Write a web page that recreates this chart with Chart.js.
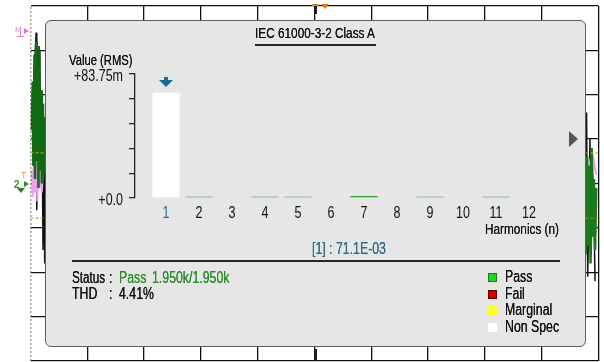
<!DOCTYPE html>
<html>
<head>
<meta charset="utf-8">
<title>IEC 61000-3-2 Class A</title>
<script src="https://cdn.jsdelivr.net/npm/chart.js@4.4.1/dist/chart.umd.min.js"></script>
<style>
  html, body { margin: 0; padding: 0; background: #fff; }
  body {
    width: 604px; height: 362px; position: relative; overflow: hidden;
    font-family: 'Liberation Sans', Arial, sans-serif;
    color: #111;
  }
  canvas { position: absolute; left: 0; top: 0; }
  #scope { z-index: 0; }
  #harmonics { z-index: 2; }
  .panel {
    position: absolute; left: 45px; top: 20px; width: 539px; height: 325px;
    background: #e6e6e6; border: 1px solid #5c5c5c; border-radius: 6px; z-index: 1;
  }
  /* narrow lettering like the instrument font */
  .txt {
    position: absolute; z-index: 3; white-space: nowrap; font-size: 16px; line-height: 16px;
    transform: scaleX(0.77); transform-origin: 0 50%;
    text-shadow: 0 0 0.5px currentColor;
  }
  .rule { position: absolute; z-index: 3; background: #262626; }
  .sq { position: absolute; z-index: 3; width: 9px; height: 9px; box-sizing: border-box; }
  .green { color: #2f8a2f; }
  .blue { color: #2f6b85; }
  .next {
    position: absolute; z-index: 3; left: 569px; top: 131px; width: 0; height: 0;
    border-top: 8px solid transparent; border-bottom: 8px solid transparent; border-left: 9px solid #555;
  }
  .mark { position: absolute; z-index: 3; white-space: nowrap; line-height: 10px; }
  .tri-r { position: absolute; z-index: 3; width: 0; height: 0; border-top: 3px solid transparent; border-bottom: 3px solid transparent; }
  .tri-d { position: absolute; z-index: 3; width: 0; height: 0; border-left: 4px solid transparent; border-right: 4px solid transparent; }
  .bar { position: absolute; z-index: 3; }
</style>
</head>
<body>
<canvas id="scope" width="604" height="362"></canvas>
<div class="panel"></div>
<canvas id="harmonics" width="604" height="362"></canvas>

<!-- channel and trigger markers around the graticule -->
<div class="mark" style="left:15px;top:25px;font-size:8px;color:#d67ad6;">M</div>
<div class="tri-r" style="left:24px;top:28px;border-left:5px solid #d67ad6;"></div>
<div class="bar" style="left:20px;top:31px;width:1px;height:6px;background:#d67ad6;"></div>
<div class="bar" style="left:17px;top:36px;width:7px;height:1px;background:#d67ad6;"></div>
<div class="mark" style="left:21px;top:170px;font-size:9px;color:#e09a3a;">T</div>
<div class="mark" style="left:14px;top:180px;font-size:10px;font-weight:bold;color:#3a8a2a;">2</div>
<div class="tri-r" style="left:24px;top:181px;border-left:5px solid #2e8a2e;"></div>
<div class="tri-d" style="left:17px;top:188px;border-top:5px solid #2e7a2e;"></div>
<div class="bar" style="left:315px;top:4px;width:1.5px;height:10px;background:#222;"></div>
<div class="bar" style="left:312px;top:4px;width:7px;height:1.5px;background:#c08a3a;"></div>
<div class="tri-d" style="left:321px;top:4px;border-top:5px solid #e07a10;"></div>
<div class="bar" style="left:315px;top:349px;width:1.5px;height:12px;background:#222;"></div>

<div class="txt" style="left:193px;top:25px;width:244px;text-align:center;transform-origin:50% 50%;font-size:15.5px;transform:scaleX(0.76);">IEC 61000-3-2 Class A</div>
<div class="rule" style="left:255px;top:44px;width:121px;height:1.5px;"></div>
<div class="txt" style="left:69px;top:52px;font-size:15px;transform:scaleX(0.75);">Value (RMS)</div>
<div class="txt" style="left:485px;top:221px;font-size:15.5px;transform:scaleX(0.76);">Harmonics (n)</div>
<div class="txt blue" id="cursor" style="left:312px;top:241px;"></div>
<div class="rule" style="left:72px;top:260px;width:488px;height:1.5px;"></div>

<div class="txt" style="left:72px;top:270px;transform:scaleX(0.73);">Status</div>
<div class="txt" style="left:109px;top:270px;">:</div>
<div class="txt green" id="status" style="left:119px;top:270px;"></div>
<div class="txt green" id="count" style="left:152px;top:270px;"></div>
<div class="txt" style="left:72px;top:286px;">THD</div>
<div class="txt" style="left:109px;top:286px;">:</div>
<div class="txt" id="thd" style="left:119px;top:286px;"></div>

<div id="legend"></div>
<div class="next"></div>

<script>
// harmonic table
const harmonics = [1, 2, 3, 4, 5, 6, 7, 8, 9, 10, 11, 12];
const rmsValues = [71.1e-3, 0.8e-3, 0, 0.8e-3, 0.8e-3, 0, 1.4e-3, 0, 0.8e-3, 0, 0.8e-3, 0];
const harmonicStatus = ['Non Spec', 'Pass', 'Pass', 'Pass', 'Pass', 'Pass', 'Pass', 'Pass', 'Pass', 'Pass', 'Pass', 'Pass'];
const selectedHarmonic = 1;
const yMax = 83.75e-3;
const yDivisions = 5;

const overallStatus = 'Pass';
const passCount = '1.950k/1.950k';
const thdText = '4.41%';

const legendItems = ['Pass', 'Fail', 'Marginal', 'Non Spec'];
const statusColors = { 'Pass': '#2f9e2f', 'Fail': '#cc0000', 'Marginal': '#ffff00', 'Non Spec': '#ffffff' };
const legendFill = { 'Pass': '#22d322', 'Fail': '#d40000', 'Marginal': '#ffff20', 'Non Spec': '#ffffff' };
const legendEdge = { 'Pass': '#1a7a1a', 'Fail': '#5a0000', 'Marginal': '#ffff20', 'Non Spec': '#ffffff' };

// scope traces visible at both sides of the panel (divisions)
const leftGreenX  = [0.02, 0.04, 0.05, 0.07, 0.08, 0.10, 0.11, 0.13, 0.14, 0.16, 0.17, 0.19, 0.20, 0.22, 0.23, 0.25, 0.26];
const leftGreenY  = [5.2, 6.3, 4.4, 6.9, 4.1, 7.2, 4.5, 6.6, 3.9, 7.0, 4.3, 6.1, 4.0, 5.8, 4.2, 5.5, 4.6];
const leftPinkX   = [0.02, 0.04, 0.06, 0.08, 0.10, 0.12, 0.14, 0.16, 0.18, 0.20, 0.22];
const leftPinkY   = [4.3, 3.7, 4.7, 3.8, 4.6, 3.6, 4.5, 3.9, 4.8, 3.8, 4.4];
const leftBlackX  = [0.03, 0.10, 0.11, 0.15, 0.17, 0.20, 0.22, 0.24, 0.25, 0.27];
const leftBlackY  = [5.6, 7.4, 3.4, 7.1, 4.0, 6.0, 2.5, 5.2, 2.2, 4.0];
const rightGreenX = [9.76, 9.78, 9.80, 9.82, 9.84, 9.86, 9.88, 9.90, 9.92, 9.94, 9.96];
const rightGreenY = [4.2, 2.4, 4.6, 2.6, 4.4, 2.2, 4.8, 2.8, 4.1, 2.5, 3.9];
const rightPinkX  = [9.80, 9.84, 9.88, 9.92, 9.96];
const rightPinkY  = [4.0, 4.4, 3.9, 4.5, 4.2];
const rightBlackX = [9.75, 9.76, 9.79, 9.81, 9.85, 9.87, 9.90, 9.94];
const rightBlackY = [6.4, 2.6, 5.6, 1.9, 5.0, 2.4, 4.6, 1.8];
const levelLines  = [4.69, 3.22];

const textScaleX = 0.78;

Chart.defaults.font.family = "'Liberation Sans', Arial, sans-serif";
Chart.defaults.color = '#111';

const pts = (xs, ys) => xs.map((x, i) => ({ x, y: ys[i] }));
const trace = (xs, ys, color, width) => ({
  data: pts(xs, ys), showLine: true, pointRadius: 0, borderColor: color, borderWidth: width
});

// scope graticule behind the panel
new Chart(document.getElementById('scope'), {
  type: 'scatter',
  data: {
    datasets: [
      { data: [{ x: 0, y: 0 }, { x: 0, y: 8 }], showLine: true, pointRadius: 0, borderColor: '#5a3510', borderWidth: 1.5, borderDash: [2, 2] },
      ...levelLines.map((v, i) => ({
        data: [{ x: 0, y: v }, { x: 10, y: v }], showLine: true, pointRadius: 0,
        borderColor: i === 0 ? '#e08a2a' : '#b88a3a', borderWidth: 1, borderDash: [3, 2]
      })),
      trace(leftGreenX, leftGreenY, '#106a14', 2.5),
      trace(leftPinkX, leftPinkY, '#f09cf0', 2),
      trace(leftBlackX, leftBlackY, '#111', 1.5),
      trace(rightGreenX, rightGreenY, '#1c7a1c', 2.5),
      trace(rightPinkX, rightPinkY, '#f0a0f0', 2),
      trace(rightBlackX, rightBlackY, '#111', 1.5)
    ]
  },
  options: {
    responsive: false,
    animation: false,
    layout: { padding: { left: 30.5, right: 5.5, top: 6, bottom: 1 } },
    plugins: { legend: { display: false }, tooltip: { enabled: false } },
    scales: {
      x: {
        min: 0, max: 10,
        ticks: { display: false, stepSize: 1 },
        grid: { drawTicks: false, lineWidth: 1.3, color: (ctx) => ctx.tick && ctx.tick.value === 0 ? 'rgba(0,0,0,0)' : '#111' },
        border: { display: false },
        afterFit: (s) => { s.height = 0; }
      },
      y: {
        min: 0, max: 8,
        ticks: { display: false, stepSize: 1 },
        grid: { drawTicks: false, lineWidth: 1.3, color: '#111' },
        border: { display: false },
        afterFit: (s) => { s.width = 0; }
      }
    }
  }
});

// squeeze axis text horizontally around its anchor point
const condensedText = {
  id: 'condensedText',
  beforeDraw(chart) {
    const ctx = chart.ctx;
    const fill = CanvasRenderingContext2D.prototype.fillText;
    ctx.fillText = function (text, x, y) {
      this.save();
      this.translate(x, y);
      this.scale(textScaleX, 1);
      fill.call(this, text, 0, 0);
      this.restore();
    };
  },
  afterDraw(chart) {
    delete chart.ctx.fillText;
  }
};

// cursor arrow over the selected harmonic
const cursorArrow = {
  id: 'cursorArrow',
  afterDatasetsDraw(chart) {
    const { ctx, chartArea, scales } = chart;
    const x = scales.x.getPixelForValue(selectedHarmonic);
    const y = chartArea.top + 3;
    ctx.save();
    ctx.fillStyle = '#1b6b93';
    ctx.fillRect(x - 2, y, 4, 4);
    ctx.beginPath();
    ctx.moveTo(x - 7, y + 3);
    ctx.lineTo(x + 7, y + 3);
    ctx.lineTo(x, y + 10);
    ctx.closePath();
    ctx.fill();
    ctx.restore();
  }
};

new Chart(document.getElementById('harmonics'), {
  type: 'bar',
  data: {
    datasets: [{
      data: pts(harmonics, rmsValues),
      backgroundColor: harmonicStatus.map((s) => statusColors[s]),
      borderWidth: 0,
      barPercentage: 0.82,
      categoryPercentage: 1
    }]
  },
  options: {
    responsive: false,
    animation: false,
    layout: { padding: { left: 45, right: 58.5, top: 74, bottom: 129 } },
    plugins: { legend: { display: false }, tooltip: { enabled: false } },
    scales: {
      x: {
        type: 'linear',
        min: 0.06, max: 12.5,
        offset: false,
        afterBuildTicks: (s) => { s.ticks = harmonics.map((v) => ({ value: v })); },
        ticks: {
          autoSkip: false, maxRotation: 0, padding: 6,
          font: { size: 16 },
          color: (ctx) => ctx.tick && ctx.tick.value === selectedHarmonic ? '#2f6b85' : '#111',
          callback: (v) => String(v)
        },
        grid: { display: false, drawTicks: false },
        border: { display: false },
        afterFit: (s) => { s.height = 35; }
      },
      y: {
        min: 0, max: yMax,
        afterBuildTicks: (s) => {
          const t = [];
          for (let i = 0; i <= yDivisions; i++) t.push({ value: yMax * i / yDivisions });
          s.ticks = t;
        },
        ticks: {
          padding: 6,
          labelOffset: 3,
          font: { size: 16 },
          color: '#111',
          callback: (v, i) => i === 0 ? '+0.0' : (i === yDivisions ? '+' + (yMax * 1000).toFixed(2) + 'm' : '')
        },
        grid: { drawOnChartArea: false, tickLength: 6, color: '#262626', lineWidth: 1.3 },
        border: { color: '#262626', width: 1.3 },
        afterFit: (s) => { s.width = 90; }
      }
    }
  },
  plugins: [condensedText, cursorArrow]
});

// readouts
document.getElementById('cursor').textContent =
  '[' + selectedHarmonic + '] : ' + (rmsValues[harmonics.indexOf(selectedHarmonic)] * 1000).toFixed(1) + 'E-03';
document.getElementById('status').textContent = overallStatus;
document.getElementById('count').textContent = passCount;
document.getElementById('thd').textContent = thdText;

// status legend
const legendBox = document.getElementById('legend');
const legendRows = [277, 294, 310, 327];
legendItems.forEach((name, i) => {
  const sq = document.createElement('div');
  sq.className = 'sq';
  sq.style.left = '488px';
  sq.style.top = (legendRows[i] - 4.5) + 'px';
  sq.style.background = legendFill[name];
  sq.style.border = '1px solid ' + legendEdge[name];
  legendBox.appendChild(sq);
  const label = document.createElement('div');
  label.className = 'txt';
  label.style.left = '505px';
  label.style.top = (legendRows[i] - 8) + 'px';
  label.textContent = name;
  legendBox.appendChild(label);
});
</script>
</body>
</html>
